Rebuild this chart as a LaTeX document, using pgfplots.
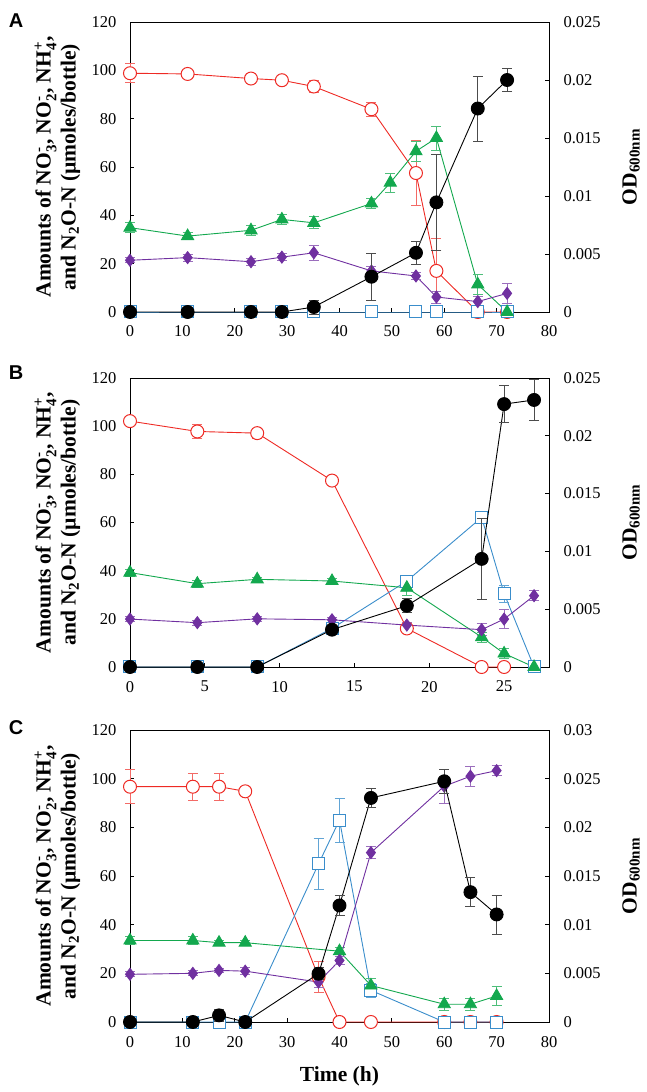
\documentclass[border=0pt]{standalone}
\usepackage{amsmath}
\usepackage{fontspec}
\setmainfont{Liberation Serif}
\newfontfamily\tnr{Liberation Serif}
\newfontfamily\lsans{Liberation Sans}
\usepackage{pgfplots}
\pgfplotsset{compat=1.18}
\definecolor{cred}{HTML}{EE2A24}
\definecolor{cgreen}{HTML}{13A84E}
\definecolor{cpurple}{HTML}{7030A0}
\definecolor{cblue}{HTML}{3A8DCB}
\newcommand{\ion}[2]{$_{\text{#1}}^{\text{#2}}$}
\pgfplotsset{
  /pgf/number format/assume math mode=true,
  base/.style={scale only axis, width=419pt, tick align=inside, major tick length=4pt,
    axis line style={line width=0.9pt}, every tick/.style={line width=0.8pt, black},
    every tick label/.append style={font=\tnr\fontsize{16.5}{18}\selectfont},
    label style={font=\tnr\bfseries\fontsize{21.5}{25}\selectfont},
    clip=false},
  left/.style={base, ymin=0, ymax=120, ytick={0,20,...,120}, xtick pos=left, ytick pos=left,
    yticklabel style={xshift=-10pt}, xticklabel style={yshift=-10.5pt},
    ylabel={Amounts of NO\ion{3}{-}, NO\ion{2}{-}, NH\ion{4}{+},\\and N$_{\text{2}}$O-N (µmoles/bottle)},
    ylabel style={at={(axis description cs:-0.173,0.5)}, anchor=center, align=center}},
  right/.style={base, axis y line*=right, hide x axis, ymin=0, scaled y ticks=false,
    yticklabel style={xshift=11pt, /pgf/number format/fixed, /pgf/number format/precision=3},
    ylabel={OD$_{\text{600nm}}$},
    ylabel style={at={(axis description cs:1.196,0.5)}, anchor=center}},
  eb/.style={error bars/.cd, y dir=both, y explicit, error mark options={rotate=90, mark size=5pt, line width=0.8pt}},
  sred/.style={color=cred, line width=0.9pt, mark=*, mark size=6.5pt, mark options={fill=white, line width=1pt}, eb, error bar style={color=cred!70, line width=0.8pt}},
  sblue/.style={color=cblue, line width=0.9pt, mark=square*, mark size=6pt, mark options={fill=white, line width=1pt}, eb, error bar style={color=cblue!80, line width=0.8pt}},
  sgreen/.style={color=cgreen, line width=0.9pt, mark=triangle*, mark size=7pt, mark options={fill=cgreen}, eb, error bar style={color=cgreen!75, line width=0.8pt}},
  spurple/.style={color=cpurple, line width=0.9pt, mark=diamond*, mark size=6pt, mark options={fill=cpurple}, eb, error bar style={color=cpurple!70, line width=0.8pt}},
  sblack/.style={color=black, line width=0.9pt, mark=*, mark size=6.5pt, mark options={fill=black}, eb, error bar style={color=black!70, line width=0.8pt}},
}
\begin{document}
\begin{tikzpicture}
\useasboundingbox (0,0) rectangle (646pt,1092pt);
% ---------------- Panel A ----------------
\begin{axis}[left, at={(130pt,780pt)}, anchor=south west, height=290pt,
  xmin=0, xmax=80, xtick={0,10,...,80}]
\addplot[sred] coordinates {(0,98.8) +- (0,4) (11,98.5) +- (0,1.5) (23.1,96.6) +- (0,2) (29,95.9) +- (0,1.5) (35.1,93.3) +- (0,2.5) (46.1,83.9) +- (0,3) (54.6,57.5) +- (0,13.5) (58.5,17) +- (0,13.4) (66.4,0) +- (0,0) (72,0) +- (0,0)};
\addplot[sblue] coordinates {(0,0) +- (0,0) (11,0) +- (0,0) (23.1,0) +- (0,0) (29,0) +- (0,0) (35.1,0) +- (0,0) (46.1,0) +- (0,0) (54.6,0) +- (0,0) (58.5,0) +- (0,0) (66.4,0) +- (0,0) (72,0) +- (0,0)};
\addplot[sgreen] coordinates {(0,34.9) +- (0,2) (11,31.4) +- (0,1.5) (23.1,33.8) +- (0,2) (29,38.3) +- (0,2) (35.1,36.9) +- (0,2.5) (46.1,44.9) +- (0,2) (49.7,53.5) +- (0,4) (54.6,66.5) +- (0,4) (58.5,72) +- (0,5) (66.4,11.4) +- (0,4) (72,0) +- (0,0)};
\addplot[spurple] coordinates {(0,21.4) +- (0,1) (11,22.5) +- (0,1.5) (23.1,20.8) +- (0,1.5) (29,22.7) +- (0,1.5) (35.1,24.5) +- (0,3) (46.1,17) +- (0,2) (54.6,14.9) +- (0,1.5) (58.5,6.2) +- (0,2.5) (66.4,4.3) +- (0,2) (72,7.7) +- (0,4)};
\end{axis}
\begin{axis}[right, at={(130pt,780pt)}, anchor=south west, height=290pt,
  xmin=0, xmax=80, ymax=0.025, ytick={0,0.005,...,0.025}]
\addplot[sblack] coordinates {(0,0) +- (0,0) (11,0) +- (0,0) (23.1,0) +- (0,0) (29,0) +- (0,0) (35.1,0.00043) +- (0,0.0006) (46.1,0.00304) +- (0,0.002) (54.6,0.0051) +- (0,0.001) (58.5,0.00945) +- (0,0.0041) (66.4,0.01754) +- (0,0.0028) (72,0.0200) +- (0,0.001)};
\end{axis}
% ---------------- Panel B ----------------
\begin{axis}[left, at={(130pt,425pt)}, anchor=south west, height=289pt,
  xmin=0, xmax=28, xtick={0,5,...,25}]
\addplot[sred] coordinates {(0,102.1) +- (0,1.5) (4.5,97.8) +- (0,3) (8.5,97.1) +- (0,2) (13.5,77.4) +- (0,1.5) (18.5,16) +- (0,1) (23.5,0) +- (0,0) (25,0) +- (0,0)};
\addplot[sblue] coordinates {(0,0) +- (0,0) (4.5,0) +- (0,0) (8.5,0) +- (0,0) (13.5,16) +- (0,1) (18.5,35.7) +- (0,1) (23.5,62.1) +- (0,2) (25,30.5) +- (0,3.5) (27,0) +- (0,0)};
\addplot[sgreen] coordinates {(0,39.2) +- (0,1.5) (4.5,34.6) +- (0,1.5) (8.5,36.4) +- (0,1) (13.5,35.7) +- (0,1) (18.5,32.9) +- (0,3) (23.5,12.4) +- (0,2) (25,5.6) +- (0,2) (27,0) +- (0,0)};
\addplot[spurple] coordinates {(0,19.9) +- (0,1) (4.5,18.4) +- (0,1) (8.5,20) +- (0,1) (13.5,19.6) +- (0,1) (18.5,17.4) +- (0,1) (23.5,15.5) +- (0,2.5) (25,19.9) +- (0,4) (27,29.6) +- (0,2)};
\end{axis}
\begin{axis}[right, at={(130pt,425pt)}, anchor=south west, height=289pt,
  xmin=0, xmax=28, ymax=0.025, ytick={0,0.005,...,0.025}]
\addplot[sblack] coordinates {(0,0) +- (0,0) (4.5,0) +- (0,0) (8.5,0) +- (0,0) (13.5,0.00323) +- (0,0.0002) (18.5,0.0053) +- (0,0.0006) (23.5,0.00935) +- (0,0.0035) (25,0.02274) +- (0,0.0016) (27,0.0231) +- (0,0.0018)};
\end{axis}
% ---------------- Panel C ----------------
\begin{axis}[left, at={(130pt,70pt)}, anchor=south west, height=292pt,
  xmin=0, xmax=80, xtick={0,10,...,80}, xlabel={Time (h)},
  xlabel style={at={(axis description cs:0.5,-0.185)}, anchor=center}]
\addplot[sred] coordinates {(0,96.7) +- (0,7) (12,96.7) +- (0,5.5) (17,96.7) +- (0,5.5) (22,94.8) +- (0,1) (36,18.5) +- (0,6.5) (40,0) +- (0,0) (46,0) +- (0,0) (60,0) +- (0,0) (65,0) +- (0,0) (70,0) +- (0,0)};
\addplot[sblue] coordinates {(0,0) +- (0,0) (12,0) +- (0,0) (17,0) +- (0,0) (22,0) +- (0,0) (36,65) +- (0,10.5) (40,83) +- (0,9) (46,13) +- (0,3) (60,0) +- (0,0) (65,0) +- (0,0) (70,0) +- (0,0)};
\addplot[sgreen] coordinates {(0,33.5) +- (0,1.5) (12,33.5) +- (0,1.5) (17,32.6) +- (0,1) (22,32.6) +- (0,1) (40,29.1) +- (0,1.5) (46,15) +- (0,3) (60,7.3) +- (0,2.5) (65,7.3) +- (0,2.5) (70,10.7) +- (0,4)};
\addplot[spurple] coordinates {(0,19.6) +- (0,1) (12,20) +- (0,1) (17,21.2) +- (0,1) (22,20.9) +- (0,1.5) (36,16.4) +- (0,2) (40,25.3) +- (0,1.5) (46,69.6) +- (0,2.5) (60,96.9) +- (0,7) (65,101) +- (0,4) (70,103.3) +- (0,2)};
\end{axis}
\begin{axis}[right, at={(130pt,70pt)}, anchor=south west, height=292pt,
  xmin=0, xmax=80, ymax=0.03, ytick={0,0.005,...,0.03}]
\addplot[sblack] coordinates {(0,0) +- (0,0) (12,0) +- (0,0) (17,0.00068) +- (0,0.0006) (22,0) +- (0,0) (36,0.00496) +- (0,0.0006) (40,0.01197) +- (0,0.001) (46,0.02302) +- (0,0.001) (60,0.02473) +- (0,0.0012) (65,0.01334) +- (0,0.0015) (70,0.01105) +- (0,0.002)};
\end{axis}
% panel letters
\node[font=\lsans\bfseries\fontsize{20}{24}\selectfont] at (16pt,1071pt) {A};
\node[font=\lsans\bfseries\fontsize{20}{24}\selectfont] at (16pt,719pt) {B};
\node[font=\lsans\bfseries\fontsize{20}{24}\selectfont] at (16pt,364pt) {C};
\end{tikzpicture}
\end{document}
